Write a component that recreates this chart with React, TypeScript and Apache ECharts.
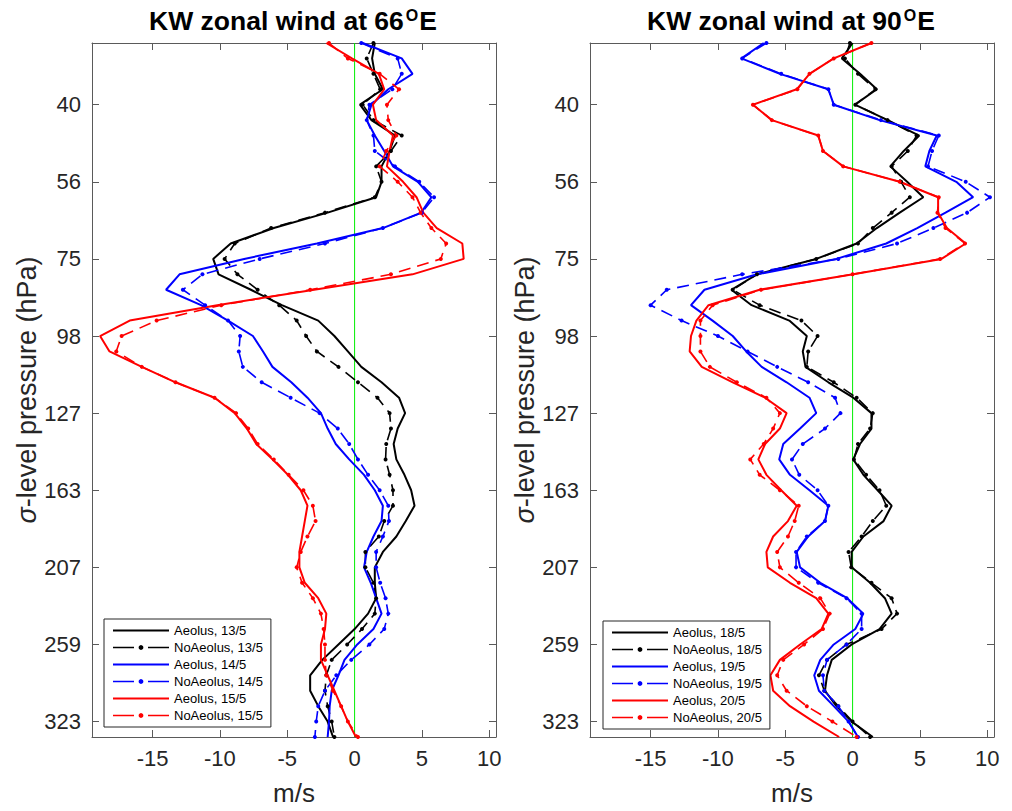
import React, { useEffect, useRef } from 'react';
import * as echarts from 'echarts';

// ---- DATA ----
// Model (sigma) levels: index 0 = top of the plotted column, 45 = bottom
const yTickLevels = [4, 9, 14, 19, 24, 29, 34, 39, 44];
const yTickLabels = ['40', '56', '75', '98', '127', '163', '207', '259', '323'];
const xTicks = [-15, -10, -5, 0, 5, 10];

// Left panel: 66°E
const aeolus13 = [
  1.5, 1.3, 1.5, 2.1, 0.4, 1.25, 3.0, 2.6, 2.0, 2.0,
  1.6, -2.0, -6.0, -9.2, -10.5, -10.1, -7.7, -5.4, -2.7, -1.5,
  -0.5, 0.5, 2.0, 3.3, 3.75, 3.2, 2.9, 3.1, 3.7, 4.2,
  4.45, 3.8, 3.1, 2.1, 1.5, 1.5, 1.6, 1.0, 0.0, -1.2,
  -2.4, -3.3, -3.3, -2.7, -2.0, -1.6,
];
const noAeolus13 = [
  1.4, 0.9, 1.4, 1.9, 0.6, 1.4, 3.5, 2.7, 1.6, 2.0,
  1.5, -2.2, -6.2, -8.9, -9.65, -8.7, -7.2, -5.6, -4.3, -3.6,
  -2.8, -1.2, 0.25, 1.7, 2.6, 2.7, 2.35, 2.3, 2.6, 2.85,
  2.85, 2.2, 1.8, 0.8, 0.8, 1.4, 1.6, 1.5, 0.55, -0.55,
  -1.7, -2.1, -2.2, -2.0, -1.7, -1.5,
];
const aeolus14 = [
  0.6, 3.5, 4.3, 2.5, 1.25, 0.9, 1.5, 2.2, 2.85, 4.7,
  5.7, 4.95, 2.1, -2.8, -8.2, -13.0, -14.0, -11.4, -9.4, -7.55,
  -6.8, -6.1, -4.7, -3.5, -2.5, -2.0, -1.4, -0.4, 0.7, 1.5,
  2.1, 2.0, 1.4, 0.9, 0.7, 1.2, 1.6, 2.0, 1.4, 0.2,
  -0.75, -1.2, -1.7, -1.85, -1.9, -2.0,
];
const noAeolus14 = [
  0.5, 3.2, 3.5, 2.8, 1.1, 0.9, 1.4, 1.5, 3.0, 4.8,
  5.9, 5.0, 2.1, -2.2, -7.05, -11.3, -12.75, -11.1, -9.4, -8.5,
  -8.6, -8.3, -6.9, -4.75, -2.6, -1.25, -0.4, 0.25, 1.0, 1.86,
  2.5, 2.55, 2.1, 1.6, 1.6, 1.9, 2.3, 2.5, 2.2, 1.1,
  -0.25, -1.36, -2.2, -2.7, -2.85, -2.95,
];
const aeolus15 = [
  -2.1, -0.2, 1.8, 2.2, 1.36, 1.6, 2.85, 2.6, 2.4, 3.6,
  4.6, 5.1, 6.1, 8.0, 8.1, 4.3, -3.0, -10.2, -16.7, -18.9,
  -18.2, -15.8, -13.3, -10.4, -8.9, -8.0, -7.3, -6.1, -4.95, -4.0,
  -3.5, -3.7, -3.9, -4.1, -4.1, -3.7, -2.7, -2.1, -2.2, -2.5,
  -2.5, -2.0, -1.5, -1.0, -0.5, 0.1,
];
const noAeolus15 = [
  -1.9, -0.5, 1.86, 3.3, 2.4, 2.5, 3.1, 2.35, 1.86, 3.2,
  4.3, 4.9, 5.7, 6.8, 6.4, 2.7, -3.3, -9.9, -14.7, -17.3,
  -17.7, -15.8, -13.3, -10.4, -8.8, -7.9, -7.2, -6.0, -4.9, -3.8,
  -3.1, -2.9, -3.5, -4.0, -4.3, -3.9, -3.1, -2.5, -2.3, -2.2,
  -2.2, -2.1, -1.6, -1.0, -0.5, 0.25,
];

// Right panel: 90°E
const aeolus18 = [
  0.0, -0.8, 0.55, 1.8, 0.17, 2.6, 4.95, 3.8, 2.8, 4.05,
  5.25, 3.5, 1.8, 0.3, -2.7, -7.1, -9.0, -7.5, -4.7, -3.4,
  -3.7, -3.5, -1.8, 0.05, 1.4, 1.4, 0.55, 0.05, 0.8, 1.86,
  2.9, 2.3, 0.8, -0.07, -0.07, 1.3, 2.4, 2.9, 2.0, -0.07,
  -1.55, -1.9, -2.05, -1.2, -0.07, 1.5,
];
const noAeolus18 = [
  -0.2, -0.57, 0.4, 1.7, 0.2, 2.6, 4.75, 4.1, 2.9, 3.6,
  4.25, 2.9, 1.5, 0.4, -2.7, -7.1, -8.9, -6.9, -3.8, -2.6,
  -3.3, -3.4, -1.4, 0.3, 1.5, 1.3, 0.4, 0.1, 1.0, 2.0,
  2.5, 1.5, 0.67, -0.3, -0.1, 1.4, 2.9, 3.3, 2.15, -0.45,
  -1.9, -2.5, -2.1, -1.06, 0.0, 1.3,
];
const aeolus19 = [
  -6.6, -8.25, -5.4, -1.8, -1.4, 2.0, 6.25, 5.7, 5.4, 7.7,
  8.95, 6.9, 4.8, 2.5, -1.2, -7.1, -11.0, -12.0, -10.4, -8.9,
  -7.9, -6.75, -4.9, -3.2, -2.7, -3.9, -5.15, -5.45, -4.65, -3.2,
  -1.8, -2.05, -3.3, -4.15, -3.9, -2.4, -0.4, 0.8, 0.2, -1.4,
  -2.4, -2.85, -2.5, -1.4, -0.3, 0.4,
];
const noAeolus19 = [
  -6.4, -8.2, -5.3, -1.8, -1.4, 2.1, 6.4, 5.9, 5.6, 8.4,
  10.2, 8.5, 6.0, 3.3, -1.06, -8.2, -13.8, -15.0, -12.7, -10.0,
  -7.8, -5.6, -3.3, -1.3, -0.9, -2.05, -3.7, -4.5, -3.96, -2.6,
  -1.8, -2.05, -3.4, -4.2, -4.2, -2.55, -0.45, 0.67, 0.67, -0.45,
  -1.9, -2.2, -2.1, -1.06, -0.3, 0.4,
];
const aeolus20 = [
  1.4, -1.4, -3.2, -4.15, -7.4, -6.0, -2.55, -2.2, -0.7, 3.5,
  6.35, 6.35, 7.0, 8.4, 6.6, 0.05, -6.9, -10.7, -11.6, -12.0,
  -12.1, -11.2, -8.9, -6.5, -4.9, -5.4, -6.5, -7.0, -6.4, -5.3,
  -4.15, -4.8, -5.9, -6.4, -6.3, -4.65, -2.7, -1.8, -2.3, -3.9,
  -5.4, -6.1, -5.9, -4.65, -2.9, -1.0,
];
const noAeolus20 = [
  1.4, -1.4, -3.2, -4.1, -7.4, -6.0, -2.55, -2.2, -0.7, 3.5,
  6.4, 6.3, 6.9, 8.35, 6.5, 0.0, -6.8, -10.4, -11.3, -11.3,
  -11.3, -10.6, -8.6, -6.4, -5.4, -5.9, -6.6, -7.6, -6.9, -5.4,
  -4.0, -4.3, -4.8, -5.6, -5.4, -4.0, -2.4, -1.7, -2.2, -3.6,
  -5.15, -5.6, -4.9, -3.4, -1.5, 0.3,
];

const leftSeries = [
  { name: 'Aeolus, 13/5', values: aeolus13, color: '#000000', dashed: false },
  { name: 'NoAeolus, 13/5', values: noAeolus13, color: '#000000', dashed: true },
  { name: 'Aeolus, 14/5', values: aeolus14, color: '#0000ff', dashed: false },
  { name: 'NoAeolus, 14/5', values: noAeolus14, color: '#0000ff', dashed: true },
  { name: 'Aeolus, 15/5', values: aeolus15, color: '#ff0000', dashed: false },
  { name: 'NoAeolus, 15/5', values: noAeolus15, color: '#ff0000', dashed: true },
];
const rightSeries = [
  { name: 'Aeolus, 18/5', values: aeolus18, color: '#000000', dashed: false },
  { name: 'NoAeolus, 18/5', values: noAeolus18, color: '#000000', dashed: true },
  { name: 'Aeolus, 19/5', values: aeolus19, color: '#0000ff', dashed: false },
  { name: 'NoAeolus, 19/5', values: noAeolus19, color: '#0000ff', dashed: true },
  { name: 'Aeolus, 20/5', values: aeolus20, color: '#ff0000', dashed: false },
  { name: 'NoAeolus, 20/5', values: noAeolus20, color: '#ff0000', dashed: true },
];

const FONT = 'Liberation Sans, Arial, Helvetica, sans-serif';
const AXIS_COLOR = '#5a5a5a';
const TEXT_COLOR = '#262626';
const X_MIN = -19.5;
const X_MAX = 10.5;
const Y_MAX = aeolus13.length - 1;

function makeSeries(defs: any[], gi: number) {
  return defs.map((d) => ({
    type: 'line',
    name: d.name,
    xAxisIndex: gi * 2,
    yAxisIndex: gi * 2,
    data: d.values.map((v: number, i: number) => [v, i]),
    symbol: d.dashed ? 'circle' : 'none',
    symbolSize: 4,
    showSymbol: d.dashed,
    showAllSymbol: true,
    lineStyle: { color: d.color, width: d.dashed ? 1.6 : 2, type: d.dashed ? [12, 7] : 'solid' },
    itemStyle: { color: d.color },
    emphasis: { disabled: true },
    silent: true,
    z: 3,
  }));
}

function zeroLine(gi: number) {
  return {
    type: 'line',
    name: 'zero' + gi,
    xAxisIndex: gi * 2,
    yAxisIndex: gi * 2,
    data: [[0, 0], [0, Y_MAX]],
    symbol: 'none',
    lineStyle: { color: '#00ee00', width: 1 },
    silent: true,
    z: 2,
  };
}

function xAxes(gi: number) {
  const common = {
    type: 'value',
    gridIndex: gi,
    min: X_MIN,
    max: X_MAX,
    splitLine: { show: false },
    axisLine: { show: true, onZero: false, lineStyle: { color: AXIS_COLOR, width: 1 } },
    axisTick: { show: true, inside: true, length: 7, customValues: xTicks, lineStyle: { color: AXIS_COLOR } },
  };
  return [
    {
      ...common,
      position: 'bottom',
      name: 'm/s',
      nameLocation: 'middle',
      nameGap: 43,
      nameTextStyle: { fontSize: 26, color: TEXT_COLOR, fontFamily: FONT },
      axisLabel: { customValues: xTicks, fontSize: 22, color: TEXT_COLOR, fontFamily: FONT, margin: 10 },
    },
    { ...common, position: 'top', axisLabel: { show: false } },
  ];
}

function yAxes(gi: number) {
  const common = {
    type: 'value',
    gridIndex: gi,
    min: 0,
    max: Y_MAX,
    inverse: true,
    splitLine: { show: false },
    axisLine: { show: true, onZero: false, lineStyle: { color: AXIS_COLOR, width: 1 } },
    axisTick: { show: true, inside: true, length: 7, customValues: yTickLevels, lineStyle: { color: AXIS_COLOR } },
  };
  return [
    {
      ...common,
      position: 'left',
      name: '{s|σ}-level pressure (hPa)',
      nameLocation: 'middle',
      nameGap: 49,
      nameTextStyle: {
        fontSize: 27,
        color: TEXT_COLOR,
        fontFamily: FONT,
        rich: { s: { fontSize: 27, fontStyle: 'italic', color: TEXT_COLOR, fontFamily: FONT } },
      },
      axisLabel: {
        customValues: yTickLevels,
        fontSize: 22,
        color: TEXT_COLOR,
        fontFamily: FONT,
        margin: 11,
        formatter: (v: number) => {
          const k = yTickLevels.indexOf(Math.round(v));
          return k >= 0 ? yTickLabels[k] : '';
        },
      },
    },
    { ...common, position: 'right', axisLabel: { show: false } },
  ];
}

function legend(defs: any[], left: number, top: number) {
  return {
    data: defs.map((d) =>
      d.dashed
        ? { name: d.name, lineStyle: { type: [21, 14], width: 1.6 } }
        : { name: d.name, itemStyle: { opacity: 0, color: 'rgba(0,0,0,0)', borderWidth: 0 } }
    ),
    orient: 'vertical',
    left,
    top,
    selectedMode: false,
    itemWidth: 56,
    itemHeight: 6,
    itemGap: 4,
    padding: [5, 8, 5, 8],
    borderColor: '#262626',
    borderWidth: 1,
    backgroundColor: '#ffffff',
    textStyle: { fontSize: 13, color: '#000000', fontFamily: FONT },
  };
}

function title(txt: string, center: number) {
  return {
    text: `{a|${txt}}{b|O}{a|E}`,
    left: center,
    top: 7,
    textAlign: 'center',
    textVerticalAlign: 'top',
    padding: 0,
    textStyle: {
      rich: {
        a: { fontSize: 26.5, fontWeight: 'bold', fontFamily: FONT, color: '#000000', lineHeight: 30, verticalAlign: 'top' },
        b: { fontSize: 16, fontWeight: 'bold', fontFamily: FONT, color: '#000000', lineHeight: 27, verticalAlign: 'top', padding: [0, 1, 0, 2] },
      },
    },
  };
}

const option: any = {
  animation: false,
  backgroundColor: '#ffffff',
  title: [title('KW zonal wind at 66', 293), title('KW zonal wind at 90', 791)],
  grid: [
    { left: 92, top: 43, width: 404, height: 701, show: false },
    { left: 590, top: 43, width: 404, height: 701, show: false },
  ],
  xAxis: [...xAxes(0), ...xAxes(1)],
  yAxis: [...yAxes(0), ...yAxes(1)],
  legend: [legend(leftSeries, 104, 619), legend(rightSeries, 603, 621)],
  series: [zeroLine(0), zeroLine(1), ...makeSeries(leftSeries, 0), ...makeSeries(rightSeries, 1)],
};

export default function App() {
  const ref = useRef<HTMLDivElement>(null);
  useEffect(() => {
    const chart = echarts.init(ref.current as HTMLDivElement, null, { renderer: 'svg' });
    chart.setOption(option);
    return () => chart.dispose();
  }, []);
  return (
    <div
      ref={ref}
      style={{ position: 'absolute', left: 0, top: 0, width: 1012, height: 811, background: '#ffffff' }}
    />
  );
}
